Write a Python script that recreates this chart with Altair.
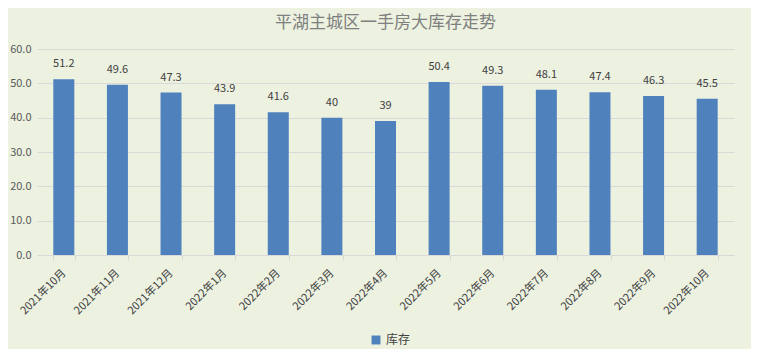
import altair as alt
import pandas as pd

months = ["2021年10月", "2021年11月", "2021年12月", "2022年1月", "2022年2月", "2022年3月",
          "2022年4月", "2022年5月", "2022年6月", "2022年7月", "2022年8月", "2022年9月", "2022年10月"]
stock = [51.2, 49.6, 47.3, 43.9, 41.6, 40, 39, 50.4, 49.3, 48.1, 47.4, 46.3, 45.5]
series = "库存"
y_ticks = [0, 10, 20, 30, 40, 50, 60]

df = pd.DataFrame({"month": months, "value": stock, "series": [series] * len(months)})

FONT = "Noto Sans CJK SC"
BAR = "#4F81BD"

x = alt.X("month:N", sort=months, title=None,
          scale=alt.Scale(paddingInner=0.6, paddingOuter=0.3),
          axis=alt.Axis(labelAngle=-45, labelAlign="right", labelBaseline="middle",
                        labelFontSize=11, labelColor="#404040", labelFont=FONT,
                        domainColor="#D9D9D9", tickColor="#D9D9D9", tickSize=5,
                        tickBand="extent", labelPadding=11, grid=False, labelOverlap=False))
y = alt.Y("value:Q", title=None,
          scale=alt.Scale(domain=[0, 60], nice=False),
          axis=alt.Axis(values=y_ticks, format=".1f", labelOverlap=False,
                        labelFontSize=11, labelColor="#595959", labelFont=FONT,
                        domain=False, ticks=False, gridColor="#D9D9D9", labelPadding=6))

bars = alt.Chart(df).mark_bar(size=21).encode(
    x=x, y=y,
    color=alt.Color("series:N", scale=alt.Scale(range=[BAR]), title=None,
                    legend=alt.Legend(orient="none", legendX=333, legendY=285,
                                      symbolType="square", symbolSize=80,
                                      labelFontSize=12, labelColor="#404040", labelFont=FONT,
                                      symbolStrokeWidth=0)),
)
labels = alt.Chart(df).mark_text(dy=-15, fontSize=11, color="#404040", font=FONT).encode(
    x=x, y=y, text=alt.Text("value:Q"))

chart = (bars + labels).properties(
    width=697, height=206,
    title=alt.TitleParams("平湖主城区一手房大库存走势", fontSize=17, color="#7F7F7F",
                          font=FONT, fontWeight="normal", anchor="middle", offset=11),
    autosize=alt.AutoSizeParams(type="none"),
    padding={"left": 29, "top": 41, "right": 17, "bottom": 94},
    background="#ECF1E0",
).configure_view(stroke=None)

chart.save("out.html", embed_options={"renderer": "svg", "actions": False})
